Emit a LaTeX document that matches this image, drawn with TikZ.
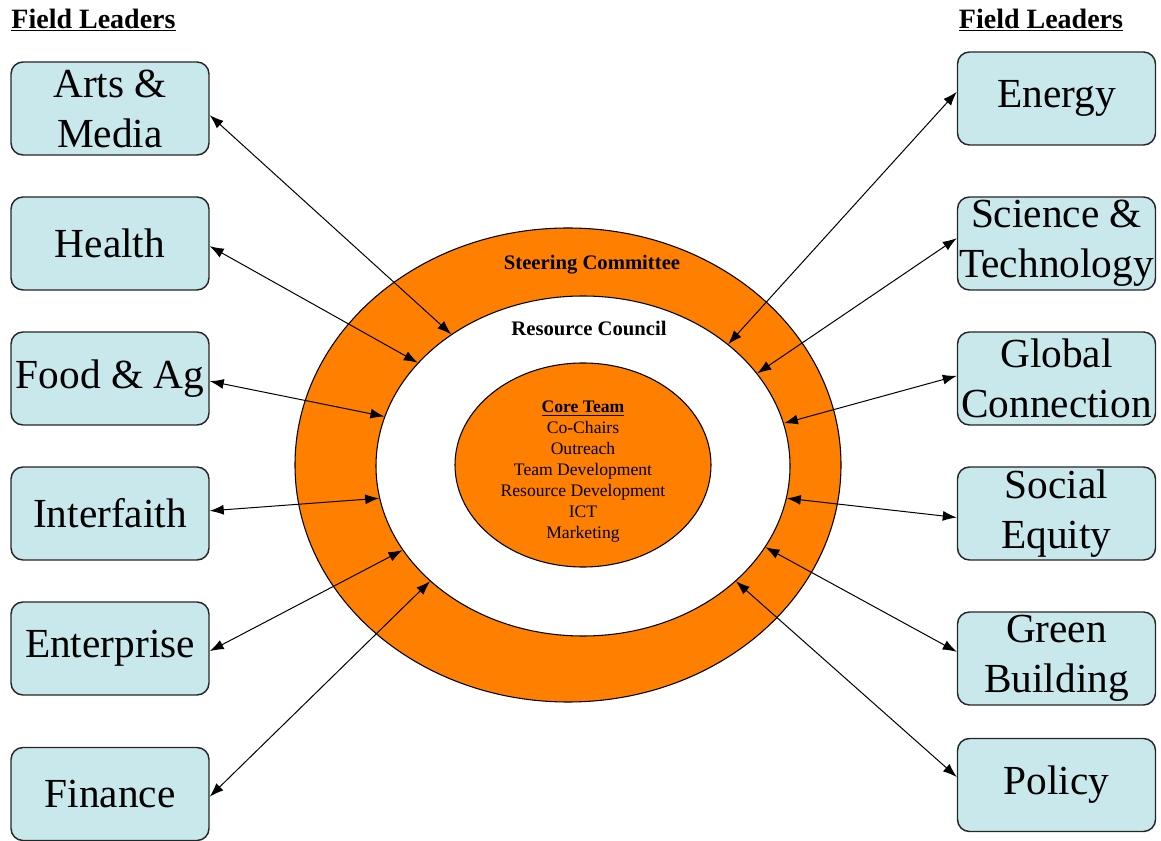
\documentclass[tikz,border=0pt]{standalone}
\usepackage{fontspec}
\setmainfont{Liberation Serif}
\usetikzlibrary{arrows.meta,shapes.geometric}
\definecolor{fieldfill}{RGB}{200,232,235}
\definecolor{ringorange}{RGB}{255,128,0}

\begin{document}
\begin{tikzpicture}[x=0.75pt, y=-0.75pt, >={Latex[length=10.5pt,width=7.5pt]},
  field/.style={draw=black!85, line width=1.1pt, fill=fieldfill, rounded corners=9pt,
    minimum width=148.5pt, minimum height=69.75pt, inner sep=1pt, align=center,
    font=\fontsize{31}{37.5}\selectfont},
  header/.style={font=\fontsize{21}{25}\selectfont\bfseries},
  ringlabel/.style={font=\fontsize{15.5}{18}\selectfont\bfseries},
  link/.style={<->, line width=0.75pt}]
%%
  \useasboundingbox (0,0) rectangle (1161,841);
  % rings
  \node (steer) at (568,465) [draw, ellipse, fill=ringorange, line width=0.8pt, minimum width=409.5pt, minimum height=355.5pt] {};
  \node (council) at (583,466) [draw, ellipse, fill=white, line width=0.8pt, minimum width=310.5pt, minimum height=255pt] {};
  \node (core) at (583,465) [draw, ellipse, fill=ringorange, line width=0.8pt, minimum width=192pt, minimum height=153pt] {};
  \node (coreteam) at (583,472) [align=center, inner sep=0pt, font=\fontsize{13.2}{15.75}\selectfont]
    {\textbf{\underline{Core Team}}\\Co-Chairs\\Outreach\\Team Development\\Resource Development\\ICT\\Marketing};
  \node (steerlbl) at (592,265) [ringlabel] {Steering Committee};
  \node (councillbl) at (589,328) [ringlabel] {Resource Council};
  % headers
  \node (lefthead) at (93.5,20) [header] {\underline{Field Leaders}};
  \node (righthead) at (1041,20) [header] {\underline{Field Leaders}};
  % left field leaders
  \node (arts) at (110,108.5) [field] {Arts \&\\Media};
  \node (health) at (110,243.5) [field] {Health};
  \node (food) at (110,378.5) [field] {Food \& Ag};
  \node (faith) at (110,513.5) [field] {Interfaith};
  \node (enterprise) at (110,648.5) [field] {Enterprise};
  \node (finance) at (110,794) [field] {Finance};
  % right field leaders
  \node (energy) at (1056.5,98.5) [field] {Energy};
  \node (science) at (1056.5,243.5) [field] {Science \&\\Technology};
  \node (global) at (1056.5,378.5) [field] {Global\\Connection};
  \node (equity) at (1056.5,513.5) [field] {Social\\Equity};
  \node (green) at (1056.5,658.5) [field] {Green\\Building};
  \node (policy) at (1056.5,785) [field] {Policy};
  % links
  \draw [link] ([yshift=-5pt]arts.east) -- (council.135);
  \draw [link] ([yshift=-2pt]health.east) -- (council.148);
  \draw [link] ([yshift=-2pt]food.east) -- (council.166);
  \draw [link] ([yshift=2pt]faith.east) -- (council.189);
  \draw [link] ([yshift=-2pt]enterprise.east) -- (council.205);
  \draw [link] ([yshift=-2pt]finance.east) -- (council.217);
  \draw [link] ([yshift=5pt]energy.west) -- (council.40);
  \draw [link] ([yshift=4pt]science.west) -- (council.28);
  \draw [link] ([yshift=2pt]global.west) -- (council.12);
  \draw [link] ([yshift=-3pt]equity.west) -- (council.351);
  \draw [link] ([yshift=5pt]green.west) -- (council.336);
  \draw [link] ([yshift=6pt]policy.west) -- (council.323);
%
\end{tikzpicture}
\end{document}
